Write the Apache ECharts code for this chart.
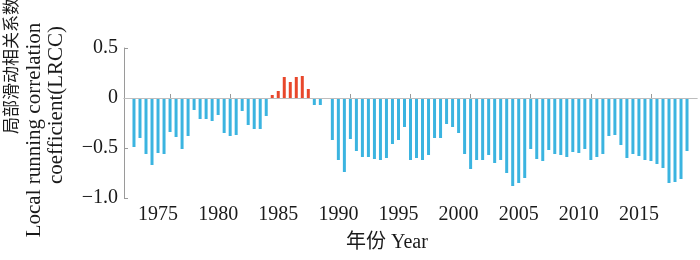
<!DOCTYPE html>
<html>
<head>
<meta charset="utf-8">
<script src="https://cdn.jsdelivr.net/npm/echarts@6/dist/echarts.min.js"></script>
<style>html,body{margin:0;padding:0;background:#fff}#c{width:700px;height:260px}</style>
</head>
<body>
<div id="c"></div>
<script>
const years = [1972,1972.5,1973,1973.5,1974,1974.5,1975,1975.5,1976,1976.5,1977,1977.5,1978,1978.5,1979,1979.5,
  1980,1980.5,1981,1981.5,1982,1982.5,1983,1983.5,1984,1984.5,1985,1985.5,1986,1986.5,1987,1987.5,1988,1988.5,1989,1989.5,
  1990,1990.5,1991,1991.5,1992,1992.5,1993,1993.5,1994,1994.5,1995,1995.5,1996,1996.5,1997,1997.5,1998,1998.5,1999,1999.5,
  2000,2000.5,2001,2001.5,2002,2002.5,2003,2003.5,2004,2004.5,2005,2005.5,2006,2006.5,2007,2007.5,2008,2008.5,2009,2009.5,
  2010,2010.5,2011,2011.5,2012,2012.5,2013,2013.5,2014,2014.5,2015,2015.5,2016,2016.5,2017,2017.5,2018];
const lrcc = [-0.49,-0.40,-0.56,-0.67,-0.55,-0.56,-0.34,-0.39,-0.51,-0.38,-0.12,-0.21,-0.21,-0.23,-0.17,-0.35,
  -0.38,-0.37,-0.13,-0.27,-0.31,-0.31,-0.18,0.03,0.07,0.21,0.16,0.21,0.22,0.09,-0.07,-0.07,0,-0.42,-0.62,-0.74,
  -0.41,-0.53,-0.59,-0.59,-0.61,-0.62,-0.60,-0.46,-0.42,-0.29,-0.62,-0.60,-0.62,-0.57,-0.40,-0.40,-0.26,-0.29,-0.35,-0.56,
  -0.71,-0.62,-0.62,-0.57,-0.65,-0.62,-0.75,-0.88,-0.85,-0.80,-0.51,-0.61,-0.63,-0.52,-0.56,-0.57,-0.59,-0.54,-0.55,-0.51,
  -0.62,-0.59,-0.56,-0.38,-0.37,-0.47,-0.60,-0.56,-0.58,-0.62,-0.63,-0.66,-0.70,-0.85,-0.84,-0.81,-0.53];
const xTickLabels = [1975,1980,1985,1990,1995,2000,2005,2010,2015];
const yTicks = [-1.0,-0.5,0,0.5];
const xTitle = '年份 Year';
const yTitleLines = ['局部滑动相关系数','Local running correlation','coefficient(LRCC)'];

const serif = '"Liberation Serif","Noto Sans CJK SC",serif';
const axisGray = '#9a9a9a';
const chart = echarts.init(document.getElementById('c'), null, {renderer:'canvas'});
chart.setOption({
  animation:false,
  grid:{left:124,right:3,top:48,bottom:62},
  xAxis:{
    type:'value', min:1971.17, max:2018.83,
    axisLine:{show:true,lineStyle:{color:axisGray,width:1}},
    axisTick:{show:true,inside:true,length:4,lineStyle:{color:axisGray},customValues:xTickLabels},
    axisLabel:{show:true,customValues:xTickLabels,fontSize:20,fontFamily:serif,color:'#1a1a1a',margin:7,padding:[0,24,0,0],
      formatter:v=>String(Math.round(v))},
    splitLine:{show:false}
  },
  yAxis:{
    type:'value', min:-1, max:0.5, interval:0.5,
    axisLine:{show:true,lineStyle:{color:axisGray,width:1}},
    axisTick:{show:true,inside:true,length:4,lineStyle:{color:axisGray},customValues:yTicks},
    axisLabel:{fontSize:20,fontFamily:serif,color:'#1a1a1a',margin:6,customValues:yTicks,
      formatter:v=>{ if (Math.abs(v)<1e-9) return '0'; const s=Math.abs(v).toFixed(1); return v<0?'\u2212'+s:s; }},
    splitLine:{show:false}
  },
  graphic:[
    {type:'text',left:346,top:233,style:{text:xTitle,font:'20px '+serif,fill:'#1a1a1a'}},
    {type:'text',x:13,y:66,rotation:Math.PI/2,style:{text:yTitleLines[0],font:'17px '+serif,fill:'#1a1a1a',align:'center',verticalAlign:'middle'}},
    {type:'text',x:34,y:130,rotation:Math.PI/2,style:{text:yTitleLines[1],font:'21px '+serif,fill:'#1a1a1a',align:'center',verticalAlign:'middle'}},
    {type:'text',x:56,y:105,rotation:Math.PI/2,style:{text:yTitleLines[2],font:'21px '+serif,fill:'#1a1a1a',align:'center',verticalAlign:'middle'}}
  ],
  series:[{
    type:'bar',
    barWidth:3,
    data:years.map((y,i)=>[y,lrcc[i]]),
    itemStyle:{color:p=>p.value[1]>0?'#e8472b':'#3bb4e0'},
    markLine:{silent:true,symbol:['none','none'],label:{show:false},lineStyle:{color:'#bdbdbd',type:'solid',width:1},data:[{yAxis:0}]}
  }]
});
</script>
</body>
</html>
